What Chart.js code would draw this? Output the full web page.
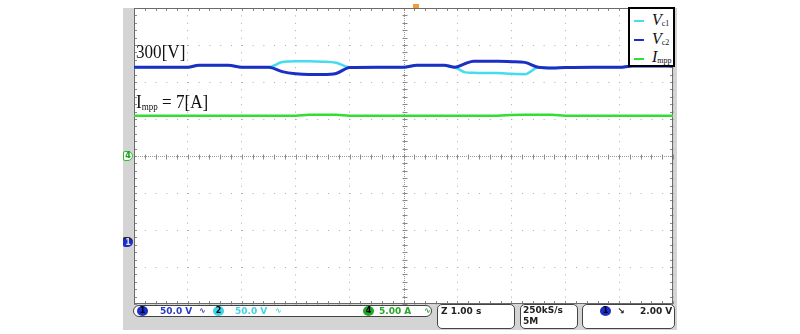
<!DOCTYPE html>
<html>
<head>
<meta charset="utf-8">
<script src="https://cdn.jsdelivr.net/npm/chart.js@4.4.1/dist/chart.umd.min.js"></script>
<style>
  body { margin: 0; background: #fff; }
  #wrap { position: relative; width: 800px; height: 334px; overflow: hidden; }
  #frame { position: absolute; left: 123px; top: 8px; width: 554px; height: 322px; background: #d4d4d4; }
  canvas { position: absolute; left: 0; top: 0; z-index: 1; }
  .ov { position: absolute; z-index: 2; white-space: nowrap; }
  .serif { font-family: "Liberation Serif", "DejaVu Serif", serif; color: #111; }
  .note { font-size: 19px; line-height: 19px; transform: scaleX(0.9); transform-origin: left top; }
  .note sub { font-size: 10px; vertical-align: baseline; position: relative; top: 2px; }
  #legend { position: absolute; z-index: 2; left: 628px; top: 7px; width: 47px; height: 60px;
            border: 2px solid #000; background: #fff; box-sizing: border-box; }
  .lgline { position: absolute; left: 4px; width: 10px; height: 2px; }
  .lgtxt { position: absolute; left: 22px; font-size: 16px; line-height: 16px; }
  .lgtxt sub { font-size: 8px; vertical-align: baseline; position: relative; top: 1px; }
  .box { position: absolute; z-index: 2; background: #fff; border: 1px solid #444; box-sizing: border-box; }
  .st { position: absolute; z-index: 3; font: bold 9px "DejaVu Sans", sans-serif; line-height: 10px; white-space: nowrap; }
  .oval { position: absolute; z-index: 3; width: 11px; height: 10px; border-radius: 50%;
          font: bold 8px "DejaVu Sans", sans-serif; line-height: 10px; text-align: center; color: #001; }
  .mk { position: absolute; z-index: 3; left: 123px; width: 10px; height: 10px; box-sizing: border-box;
        font: bold 8px "DejaVu Sans", sans-serif; line-height: 8px; text-align: center; border-radius: 2px 5px 5px 2px; }
</style>
</head>
<body>
<div id="wrap">
  <div id="frame"></div>
  <canvas id="scope" width="800" height="334"></canvas>

  <div class="ov" style="left:413px; top:4px; width:6px; height:4px; background:#f0a030;"></div>
  <div class="ov serif note" style="left:136px; top:42px;">300[V]</div>
  <div class="ov serif note" style="left:136px; top:92px;">I<sub>mpp</sub> = 7[A]</div>

  <div id="legend" class="serif">
    <div class="lgline" style="top:11px; background:#45dcef;"></div>
    <div class="lgtxt" style="top:3px;"><i>V</i><sub>c1</sub></div>
    <div class="lgline" style="top:30px; background:#1c2fc4;"></div>
    <div class="lgtxt" style="top:22px;"><i>V</i><sub>c2</sub></div>
    <div class="lgline" style="top:49px; background:#33dd33;"></div>
    <div class="lgtxt" style="top:40px;"><i>I</i><sub>mpp</sub></div>
  </div>

  <div class="mk" style="top:151px; border:1px solid #2bbd2b; background:#f4fff4; color:#1a9a1a;">4</div>
  <div class="mk" style="top:237px; background:#1c2fc4; color:#dde; border-top:2px solid #223;">1</div>

  <div class="box" style="left:133px; top:305px; width:299px; height:12px; border-radius:6px;"></div>
  <div class="oval" style="left:137px; top:306px; background:#1c2fc4;">1</div>
  <div class="st" style="left:160px; top:306px; color:#2b3cc4;">50.0 V</div>
  <div class="st" style="left:199px; top:306px; color:#2b3cc4; font-size:8px;">&#x223F;</div>
  <div class="oval" style="left:213px; top:306px; background:#3ed6e6;">2</div>
  <div class="st" style="left:235px; top:306px; color:#45d2e4;">50.0 V</div>
  <div class="st" style="left:275px; top:306px; color:#45d2e4; font-size:8px;">&#x223F;</div>
  <div class="oval" style="left:363px; top:306px; background:#22a822;">4</div>
  <div class="st" style="left:379px; top:306px; color:#2aa62a;">5.00 A</div>
  <div class="st" style="left:424px; top:306px; color:#2aa62a; font-size:8px;">&#x223F;</div>

  <div class="box" style="left:437px; top:304px; width:78px; height:25px; border-radius:5px;"></div>
  <div class="st" style="left:441px; top:306px; color:#222;">Z 1.00 s</div>

  <div class="box" style="left:520px; top:304px; width:58px; height:25px; border-radius:5px;"></div>
  <div class="st" style="left:523px; top:305px; color:#222;">250kS/s</div>
  <div class="st" style="left:523px; top:316px; color:#222;">5M</div>

  <div class="box" style="left:582px; top:304px; width:93px; height:25px; border-radius:5px;"></div>
  <div class="oval" style="left:600px; top:306px; background:#1c2fc4;">1</div>
  <div class="st" style="left:617px; top:306px; color:#222;">&#x2198;</div>
  <div class="st" style="left:640px; top:306px; color:#222;">2.00 V</div>
</div>

<script>
// time in seconds (1 s/div)
const time = [0, 0.5, 1.0, 1.2, 1.5, 1.75, 2.0, 2.25, 2.5, 2.75, 3.0, 3.25, 3.5, 3.75, 4.0, 4.5, 5.0, 5.25,
              5.5, 5.75, 5.95, 6.15, 6.3, 6.5, 6.75, 7.0, 7.25, 7.5, 7.75, 8.0, 8.5, 9.0, 9.25, 9.5, 10];
// capacitor voltages [V]
const vc1 = [300, 300, 300, 302.5, 302.5, 302.5, 300, 300, 300, 307, 308, 308, 307.5, 306, 300, 300, 300, 302.5,
             302.5, 302.5, 300, 293, 292.5, 292, 292, 291, 290.5, 299.5, 299, 299.5, 300, 300, 301.5, 301.5, 301.5];
const vc2 = [300, 300, 300, 302.5, 302.5, 302.5, 300, 300, 300, 294, 291, 290, 290, 291.5, 299.5, 300, 300, 302.5,
             302.5, 302.5, 300, 305, 308, 308, 308, 307.5, 306.5, 300, 299, 299.5, 300, 300, 301.5, 301.5, 301.5];
// MPP current [A]
const impp = [7, 7, 7, 7, 7, 7, 7, 7, 7, 7, 7, 7.13, 7.13, 7.13, 7, 7, 7, 7,
              7, 7, 7, 7, 7, 7, 7, 7.1, 7.13, 7.13, 7.13, 7, 7, 7, 7, 7, 7];
// graticule: 50 V/div, 8 divisions
const voltTicks = [-20, 30, 80, 130, 180, 230, 280, 330, 380];

const pts = ys => time.map((t, i) => ({ x: t, y: ys[i] }));

const graticule = {
    id: 'graticule',
    beforeDraw(chart) {
        const { ctx, chartArea: a } = chart;
        ctx.save();
        ctx.fillStyle = '#fff';
        ctx.fillRect(a.left, a.top, a.right - a.left, a.bottom - a.top);
        ctx.restore();
    },
    beforeDatasetsDraw(chart) {
        const { ctx, chartArea: a, scales: { x, y } } = chart;
        const cx = Math.round(x.getPixelForValue(5)) + 0.5;
        const cy = Math.round(y.getPixelForValue(180)) + 0.5;
        ctx.save();
        ctx.lineWidth = 1;
        ctx.strokeStyle = '#9a9a9a';
        ctx.setLineDash([1, 1]);
        ctx.beginPath();
        ctx.moveTo(a.left, cy); ctx.lineTo(a.right, cy);
        ctx.moveTo(cx, a.top); ctx.lineTo(cx, a.bottom);
        ctx.stroke();
        ctx.setLineDash([]);
        ctx.strokeStyle = '#8a8a8a';
        ctx.beginPath();
        for (let t = 0; t <= 10.001; t += 0.2) {
            const px = Math.round(x.getPixelForValue(t)) + 0.5;
            ctx.moveTo(px, a.top); ctx.lineTo(px, a.top + 3);
            ctx.moveTo(px, a.bottom); ctx.lineTo(px, a.bottom - 3);
            ctx.moveTo(px, cy - 2); ctx.lineTo(px, cy + 3);
        }
        for (let v = -20; v <= 380.001; v += 10) {
            const py = Math.round(y.getPixelForValue(v)) + 0.5;
            ctx.moveTo(a.left, py); ctx.lineTo(a.left + 3, py);
            ctx.moveTo(a.right, py); ctx.lineTo(a.right - 3, py);
            ctx.moveTo(cx - 2, py); ctx.lineTo(cx + 3, py);
        }
        ctx.stroke();
        ctx.strokeStyle = '#6a6a6a';
        ctx.strokeRect(a.left + 0.5, a.top + 0.5, a.right - a.left - 1, a.bottom - a.top - 1);
        ctx.restore();
    }
};

new Chart(document.getElementById('scope').getContext('2d'), {
    type: 'line',
    data: {
        datasets: [
            { label: 'Vc1', data: pts(vc1), borderColor: '#45dcef', borderWidth: 2.5, yAxisID: 'y', order: 2 },
            { label: 'Vc2', data: pts(vc2), borderColor: '#1c2fc4', borderWidth: 3, yAxisID: 'y', order: 1 },
            { label: 'Impp', data: pts(impp), borderColor: '#33dd33', borderWidth: 2.5, yAxisID: 'y2', order: 3 }
        ]
    },
    options: {
        responsive: false,
        animation: false,
        devicePixelRatio: 1,
        layout: { padding: { left: 134, right: 127, top: 8, bottom: 30 } },
        elements: {
            point: { radius: 0 },
            line: { cubicInterpolationMode: 'monotone', borderCapStyle: 'round' }
        },
        plugins: { legend: { display: false }, tooltip: { enabled: false } },
        scales: {
            x: {
                type: 'linear', min: 0, max: 10,
                ticks: { display: false, stepSize: 1 },
                grid: { color: '#aaaaaa', drawTicks: false },
                border: { display: false, dash: [1, 6.4] }
            },
            y: {
                min: -20, max: 380,
                afterBuildTicks: s => { s.ticks = voltTicks.map(v => ({ value: v })); },
                ticks: { display: false },
                grid: { color: '#aaaaaa', drawTicks: false },
                border: { display: false, dash: [1, 9.78] }
            },
            y2: { display: false, min: -18.45, max: 21.55 }
        }
    },
    plugins: [graticule]
});
</script>
</body>
</html>
